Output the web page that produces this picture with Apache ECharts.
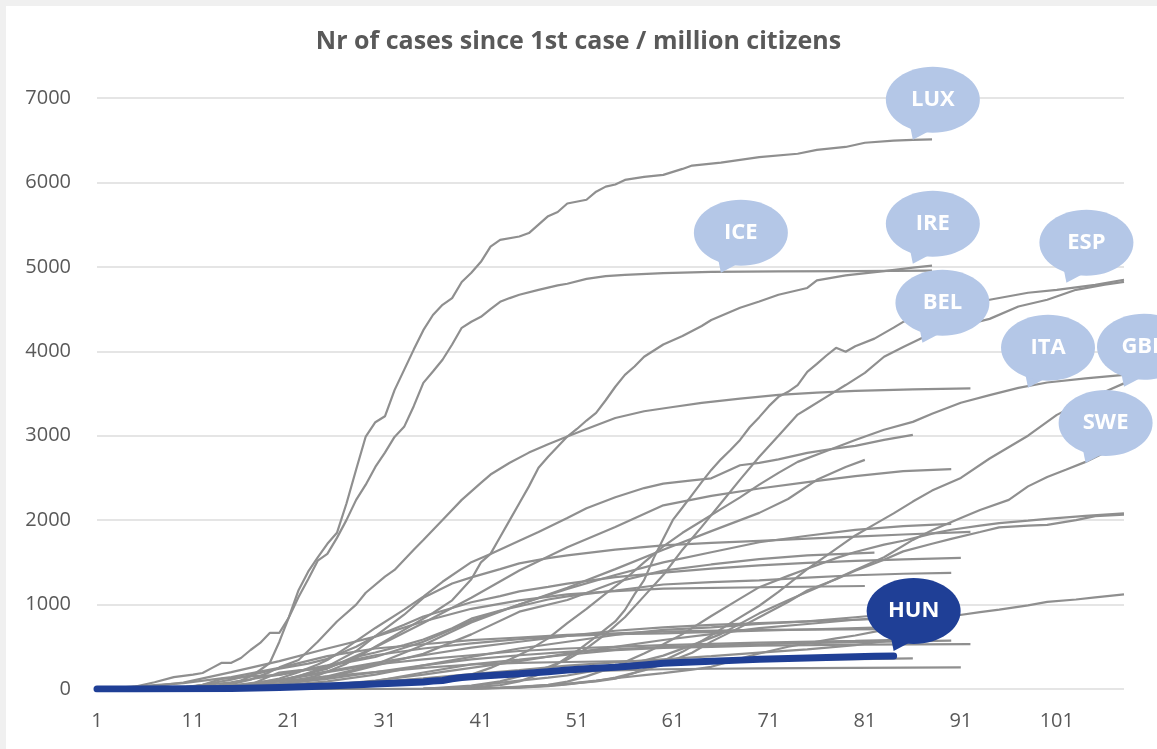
<!DOCTYPE html>
<html>
<head>
<meta charset="utf-8">
<script src="https://cdn.jsdelivr.net/npm/echarts@6/dist/echarts.min.js"></script>
<style>
  html, body { margin:0; padding:0; background:#f0f0f0; width:1157px; height:749px; overflow:hidden; }
  #bg { position:absolute; left:6px; top:6px; width:1151px; height:743px; background:#ffffff; }
  #chart { position:absolute; left:0; top:0; width:1157px; height:749px; }
</style>
</head>
<body>
<div id="bg"></div>
<div id="chart"></div>
<script>
// ---------- DATA (day since first case, cases per million) ----------
const firstDay = 1, lastDay = 108;
const categories = Array.from({length: lastDay - firstDay + 1}, (_, i) => String(firstDay + i));
const yTicks = [0, 1000, 2000, 3000, 4000, 5000, 6000, 7000];

const LUX = [[1,0],[12,0],[14,50],[16,100],[17,150],[18,225],[19,308],[20,560],[21,853],[22,1170],[23,1390],[24,1560],[25,1720],[26,1850],[27,2200],[28,2600],[29,2990],[30,3160],[31,3230],[32,3540],[33,3780],[34,4020],[35,4250],[36,4430],[37,4550],[38,4630],[39,4820],[40,4930],[41,5060],[42,5240],[43,5320],[45,5360],[46,5400],[47,5500],[48,5600],[49,5650],[50,5750],[52,5795],[53,5890],[54,5950],[55,5975],[56,6030],[58,6065],[60,6090],[62,6160],[63,6200],[66,6235],[70,6300],[74,6340],[76,6385],[79,6420],[81,6470],[84,6495],[86,6505],[88,6510]];
const ICE = [[1,0],[3,0],[5,30],[7,80],[9,140],[11,170],[12,190],[13,250],[14,310],[15,310],[16,367],[17,462],[18,545],[19,664],[20,664],[21,850],[22,1090],[23,1300],[24,1520],[25,1600],[26,1790],[27,2003],[28,2240],[29,2420],[30,2630],[31,2800],[32,2986],[33,3105],[34,3350],[35,3626],[36,3760],[37,3900],[38,4080],[39,4278],[40,4350],[41,4408],[42,4500],[43,4586],[44,4630],[45,4669],[47,4728],[49,4780],[50,4800],[52,4858],[54,4890],[56,4905],[60,4925],[65,4941],[72,4946],[80,4950],[88,4955]];
const IRE = [[1,0],[10,5],[15,20],[18,40],[21,80],[24,160],[27,300],[30,500],[33,700],[36,900],[38,1050],[40,1300],[41,1500],[42,1600],[43,1800],[44,2000],[45,2200],[46,2400],[47,2620],[48,2750],[50,2990],[51,3080],[52,3180],[53,3270],[54,3420],[55,3580],[56,3720],[57,3820],[58,3935],[60,4080],[62,4180],[64,4300],[65,4370],[68,4515],[70,4590],[72,4670],[75,4750],[76,4840],[79,4900],[83,4950],[86,4990],[88,5015]];
const CHE = [[1,0],[8,5],[10,10],[13,30],[15,57],[17,110],[19,200],[20,256],[22,343],[24,560],[26,800],[28,1000],[29,1140],[31,1330],[32,1410],[34,1650],[35,1765],[37,2003],[39,2240],[41,2441],[42,2540],[44,2680],[46,2800],[48,2900],[50,2990],[52,3080],[55,3210],[58,3290],[61,3340],[64,3390],[68,3440],[72,3484],[76,3510],[80,3530],[86,3550],[92,3560]];
const ESP = [[1,0],[30,0],[35,5],[40,20],[43,45],[45,90],[47,170],[49,300],[51,450],[53,620],[55,800],[56,936],[57,1120],[58,1290],[59,1550],[60,1780],[61,2003],[62,2150],[63,2300],[64,2450],[65,2595],[66,2720],[67,2830],[68,2950],[69,3100],[70,3220],[71,3350],[72,3460],[73,3520],[74,3600],[75,3757],[76,3850],[77,3950],[78,4041],[79,3994],[80,4060],[82,4150],[84,4280],[85,4349],[88,4450],[91,4540],[94,4610],[98,4693],[101,4728],[105,4787],[108,4847]];
const BEL = [[1,0],[30,0],[35,2],[40,40],[43,90],[45,150],[48,260],[50,350],[52,480],[54,650],[56,850],[58,1100],[60,1350],[62,1650],[64,1920],[66,2200],[68,2480],[70,2750],[72,3000],[74,3250],[75,3320],[77,3460],[79,3600],[81,3745],[83,3935],[85,4050],[87,4160],[90,4270],[94,4384],[97,4530],[100,4610],[103,4728],[106,4790],[108,4823]];
const ITA = [[1,0],[20,0],[22,2],[25,10],[28,25],[31,50],[34,80],[37,130],[40,170],[42,250],[44,350],[46,460],[48,600],[50,780],[52,950],[54,1130],[56,1300],[58,1500],[60,1690],[62,1850],[64,1990],[66,2130],[68,2270],[70,2420],[72,2560],[74,2690],[77,2820],[80,2950],[83,3070],[86,3164],[88,3260],[91,3390],[94,3480],[97,3567],[100,3630],[104,3680],[108,3720]];
const GBR = [[1,0],[35,1],[40,5],[45,20],[48,40],[50,60],[53,90],[55,122],[57,190],[60,335],[62,440],[65,635],[67,780],[70,986],[72,1150],[75,1420],[77,1580],[80,1819],[82,1950],[84,2080],[86,2220],[88,2350],[91,2500],[94,2730],[98,3000],[101,3247],[104,3420],[106,3520],[108,3620]];
const SWE = [[1,0],[35,1],[38,10],[40,35],[42,60],[45,100],[48,135],[50,160],[53,220],[56,280],[60,395],[63,520],[66,650],[70,896],[73,1050],[76,1200],[80,1410],[83,1560],[86,1766],[88,1880],[91,2026],[93,2121],[96,2240],[98,2400],[100,2512],[102,2600],[104,2690],[106,2800],[108,2910]];
const PRT = [[1,0],[5,1],[10,5],[13,20],[16,45],[18,80],[20,124],[22,200],[24,290],[25,344],[27,490],[30,723],[33,940],[35,1095],[37,1270],[40,1502],[42,1600],[45,1756],[47,1860],[50,2026],[52,2140],[55,2271],[58,2380],[60,2432],[63,2470],[65,2495],[68,2650],[70,2678],[72,2720],[75,2797],[78,2850],[80,2880],[83,2950],[86,3010]];
const NLD = [[1,0],[10,3],[15,29],[20,98],[25,242],[30,494],[35,782],[40,1080],[45,1403],[50,1679],[55,1920],[60,2175],[65,2287],[70,2375],[75,2450],[80,2521],[85,2580],[90,2605]];
const AUT = [[1,0],[10,2],[13,10],[15,20],[18,55],[20,97],[22,150],[25,268],[28,450],[30,625],[33,880],[35,1080],[38,1250],[40,1322],[43,1420],[45,1488],[48,1550],[50,1582],[55,1650],[60,1702],[65,1730],[70,1755],[75,1780],[80,1804],[85,1830],[92,1860]];
const DNK = [[1,0],[10,5],[12,50],[14,120],[17,150],[20,168],[25,270],[30,379],[35,560],[40,807],[45,1000],[50,1186],[55,1350],[60,1500],[65,1620],[70,1738],[75,1815],[80,1884],[85,1930],[90,1955]];
const DEU = [[1,0],[38,3],[40,8],[43,15],[45,23],[48,50],[50,88],[52,150],[55,268],[58,420],[60,529],[62,650],[65,865],[68,1070],[70,1206],[73,1340],[75,1425],[78,1550],[80,1623],[83,1710],[85,1756],[88,1840],[90,1886],[93,1935],[95,1964],[98,1995],[100,2016],[104,2050],[108,2080]];
const FRA = [[1,0],[35,0],[40,3],[45,17],[48,35],[50,55],[53,95],[55,136],[58,220],[60,296],[63,430],[65,561],[68,730],[70,850],[73,1030],[75,1167],[78,1300],[80,1400],[83,1530],[85,1630],[88,1720],[90,1778],[93,1860],[95,1915],[98,1935],[100,1943],[103,2000],[105,2047],[108,2065]];
const FIN = [[1,0],[38,1],[40,3],[43,15],[45,28],[48,45],[50,61],[53,100],[55,127],[58,165],[60,189],[63,230],[65,263],[68,360],[70,420],[73,500],[75,541],[78,600],[80,634],[83,700],[85,751],[88,820],[90,862],[93,910],[95,941],[98,990],[100,1031],[103,1060],[105,1085],[108,1120]];
const NOR = [[1,0],[5,2],[8,10],[10,20],[12,50],[15,111],[18,190],[20,242],[23,300],[25,357],[28,500],[30,624],[33,760],[35,859],[38,960],[40,1028],[43,1100],[45,1156],[48,1210],[50,1248],[55,1325],[60,1379],[65,1425],[70,1464],[75,1495],[80,1518],[85,1535],[91,1552]];
const EST = [[1,0],[10,5],[15,20],[17,50],[19,150],[20,194],[22,220],[25,245],[28,380],[30,432],[33,520],[35,586],[38,720],[40,833],[43,930],[45,980],[48,1060],[50,1097],[55,1167],[60,1238],[65,1265],[70,1286],[75,1320],[80,1347],[85,1365],[90,1375]];
const SRB = [[1,0],[10,5],[15,20],[20,56],[25,130],[30,276],[35,416],[40,647],[45,916],[50,1054],[55,1264],[60,1402],[65,1475],[70,1538],[75,1582],[82,1615]];
const MDA = [[1,0],[10,5],[15,20],[20,68],[25,150],[30,289],[35,520],[40,788],[45,1000],[50,1200],[55,1420],[60,1650],[65,1870],[70,2086],[73,2250],[76,2477],[79,2630],[81,2714]];
const MLT = [[1,0],[5,10],[10,76],[15,200],[20,330],[25,480],[30,620],[35,800],[40,950],[45,1050],[50,1120],[55,1160],[60,1190],[70,1205],[81,1220]];
const ROU = [[1,0],[10,2],[15,8],[20,20],[25,45],[30,100],[35,170],[40,250],[45,330],[50,420],[55,500],[60,580],[65,650],[70,720],[75,770],[80,820],[85,860],[88,880]];
const CZE = [[1,0],[10,5],[15,40],[20,110],[25,210],[30,310],[35,400],[40,490],[45,560],[50,630],[55,690],[60,730],[65,760],[70,780],[75,800],[80,820],[87,845]];
const MKD = [[1,0],[10,5],[15,15],[20,40],[25,90],[30,170],[35,280],[40,380],[45,480],[50,560],[55,640],[60,700],[65,730],[70,770],[75,800],[80,850],[85,900],[88,930]];
const SVN = [[1,0],[10,70],[15,140],[20,250],[25,390],[30,480],[35,530],[40,580],[45,610],[50,640],[55,660],[60,680],[70,700],[84,710]];
const BIH = [[1,0],[10,20],[15,80],[20,170],[25,280],[30,400],[35,480],[40,540],[45,590],[50,630],[55,650],[60,660],[70,690],[83,730]];
const LTU = [[1,0],[10,2],[15,20],[20,100],[25,200],[30,290],[35,350],[40,400],[45,450],[50,480],[55,500],[60,520],[70,550],[80,570],[88,590]];
const POL = [[1,0],[10,1],[15,5],[20,20],[25,45],[30,78],[35,125],[40,176],[45,225],[50,277],[55,315],[60,352],[65,390],[70,430],[75,470],[80,520],[84,580]];
const LVA = [[1,0],[10,5],[15,25],[20,60],[25,120],[30,200],[35,280],[40,350],[45,400],[50,440],[55,470],[60,500],[70,530],[80,555],[90,572]];
const HRV = [[1,0],[10,2],[15,4],[20,12],[25,31],[30,94],[35,195],[40,291],[45,347],[50,406],[55,461],[60,488],[65,500],[70,512],[80,525],[92,532]];
const SVK = [[1,0],[10,10],[15,40],[20,90],[25,150],[30,200],[35,250],[40,290],[45,310],[50,320],[60,335],[70,345],[80,355],[86,363]];
const GRC = [[1,0],[10,4],[15,12],[20,31],[25,60],[30,83],[35,120],[40,162],[45,185],[50,204],[55,220],[60,234],[65,240],[70,245],[80,250],[91,255]];
const HUN = [[1,0],[5,1],[10,2],[15,5],[20,17],[25,35],[30,60],[35,84],[36,95],[37,101],[38,122],[39,135],[40,145],[42,160],[45,182],[48,205],[50,224],[52,240],[55,258],[58,285],[60,304],[63,320],[65,328],[68,342],[70,352],[73,362],[75,367],[78,377],[80,383],[82,387],[84,391]];

const grayNames = ['LUX','ICE','IRE','CHE','ESP','BEL','ITA','GBR','SWE','PRT','NLD','AUT','DNK','DEU','FRA','FIN','NOR','EST','SRB','MDA','MLT','ROU','CZE','MKD','SVN','BIH','LTU','POL','LVA','HRV','SVK','GRC'];
const grayData = [LUX,ICE,IRE,CHE,ESP,BEL,ITA,GBR,SWE,PRT,NLD,AUT,DNK,DEU,FRA,FIN,NOR,EST,SRB,MDA,MLT,ROU,CZE,MKD,SVN,BIH,LTU,POL,LVA,HRV,SVK,GRC];

// callout labels: text and the (day, value) their tail points at
const calloutText  = ['LUX','ICE','IRE','ESP','BEL','ITA','GBR','SWE','HUN'];
const calloutDay   = [86.1, 65.8, 85.6, 101.5, 87.2, 97.7, 107.6, 103.9, 84.2];
const calloutValue = [6506, 4930, 5036, 4811, 4100, 3567, 3579, 2678, 450];

// ---------- CHART ----------
const chart = echarts.init(document.getElementById('chart'), null, {renderer: 'canvas'});
const FONT = '"Open Sans", "Noto Sans", sans-serif';
const GRAY = '#8f8f8f', BLUE = '#1f3f96', LIGHT = '#b4c7e7';

const series = grayNames.map((n, i) => ({
  type: 'line', name: n, silent: true, symbol: 'none', showSymbol: false, z: 2,
  data: grayData[i].map(p => [p[0] - firstDay, p[1]]),
  lineStyle: {color: GRAY, width: 2.2}
}));
series.push({
  type: 'line', name: 'HUN', silent: true, symbol: 'none', showSymbol: false, z: 5,
  data: HUN.map(p => [p[0] - firstDay, p[1]]),
  lineStyle: {color: BLUE, width: 7, cap: 'round', join: 'round'}
});

chart.setOption({
  animation: false,
  backgroundColor: 'transparent',
  title: {
    text: 'Nr of cases since 1st case / million citizens',
    left: 'center', top: 29, padding: [0, 0, 0, 19],
    textStyle: {fontFamily: FONT, fontSize: 25, fontWeight: 'bold', color: '#595959'}
  },
  grid: {left: 97, right: 33, top: 98, bottom: 60, containLabel: false},
  xAxis: {
    type: 'category', data: categories, boundaryGap: false,
    axisLine: {show: false}, axisTick: {show: false}, splitLine: {show: false},
    axisLabel: {interval: 9, margin: 22, color: '#595959', fontFamily: FONT, fontSize: 20}
  },
  yAxis: {
    type: 'value', min: yTicks[0], max: yTicks[yTicks.length - 1], interval: yTicks[1] - yTicks[0],
    axisLine: {show: false}, axisTick: {show: false},
    splitLine: {lineStyle: {color: '#dcdcdc', width: 1.5}},
    axisLabel: {margin: 26, color: '#595959', fontFamily: FONT, fontSize: 20, formatter: v => String(v)}
  },
  series: series
});

// speech-bubble callouts anchored on data coordinates
const graphics = [];
calloutText.forEach((t, i) => {
  const tip = chart.convertToPixel({gridIndex: 0}, [calloutDay[i] - firstDay, calloutValue[i]]);
  const cx = tip[0] + 20, cy = tip[1] - 40;
  const fill = t === 'HUN' ? BLUE : LIGHT;
  graphics.push({
    type: 'group', z: 100, children: [
      {type: 'polygon', z: 100, shape: {points: [[tip[0], tip[1]], [cx - 23, cy + 25], [cx - 3, cy + 31]]}, style: {fill: fill}},
      {type: 'ellipse', z: 100, shape: {cx: cx, cy: cy, rx: 47, ry: 33}, style: {fill: fill}},
      {type: 'text', z: 101, x: cx, y: cy, style: {text: t, fill: '#ffffff', font: 'bold 22px ' + FONT,
        align: 'center', verticalAlign: 'middle', textAlign: 'center', textVerticalAlign: 'middle'}}
    ]
  });
});
chart.setOption({graphic: graphics});
</script>
</body>
</html>
